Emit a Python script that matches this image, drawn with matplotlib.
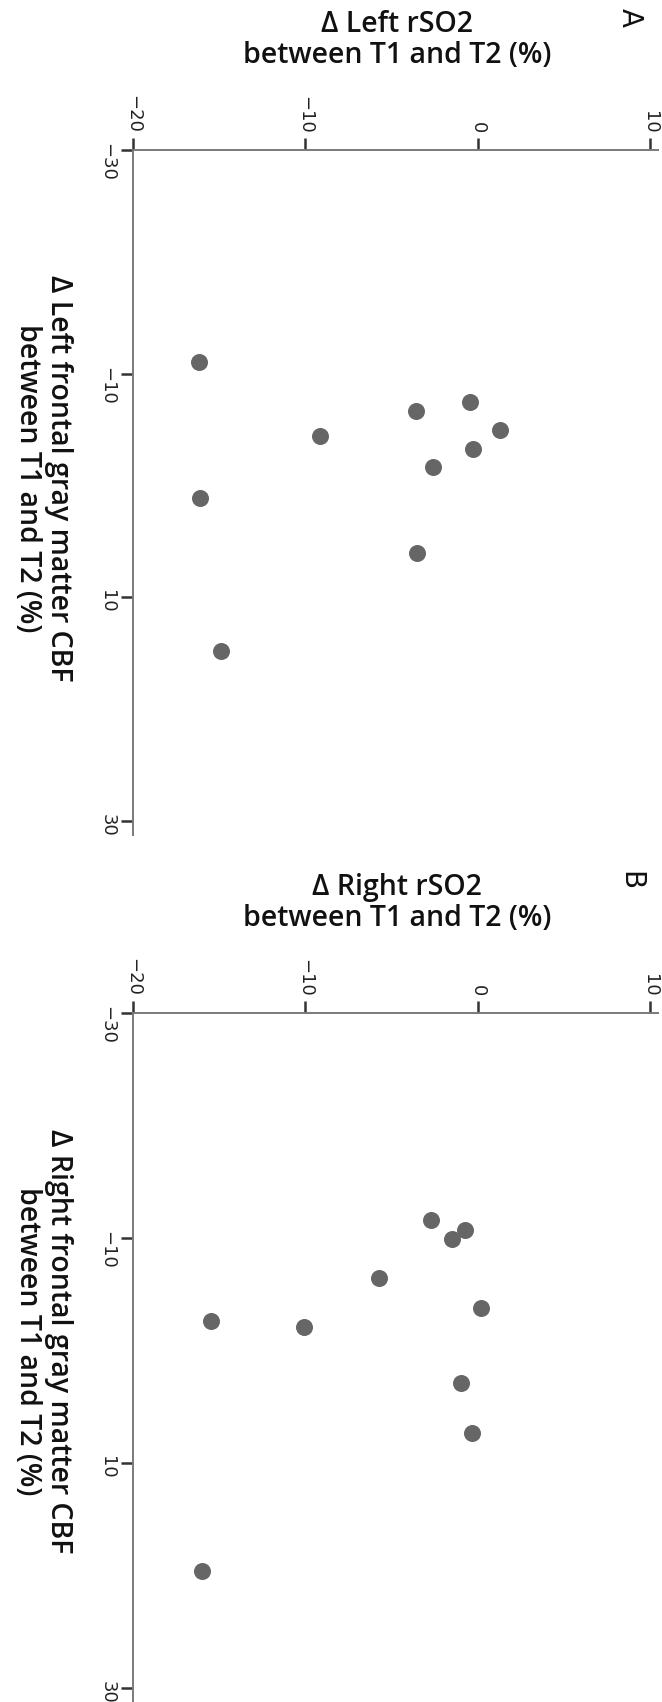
import matplotlib
matplotlib.use("Agg")
import matplotlib.pyplot as plt

# ---------------- Data ----------------
left_rso2 = [-16.15, -3.60, -0.46, 1.31, -9.15, -0.26, -2.59, -16.12, -3.50, -14.87]
left_cbf = [-11.05, -6.62, -7.46, -4.92, -4.47, -3.27, -1.63, 1.12, 6.03, 14.82]

right_rso2 = [-2.72, -0.73, -1.51, -5.71, 0.16, -15.46, -10.11, -0.97, -0.31, -16.00]
right_cbf = [-11.63, -10.71, -9.91, -6.47, -3.74, -2.65, -2.12, 2.89, 7.33, 19.57]

rso2_ticks = [-20, -10, 0, 10]
cbf_ticks = [-30, -10, 10, 30]

panels = [
    ("A", left_rso2, left_cbf,
     "\u0394 Left rSO2\nbetween T1 and T2 (%)",
     "\u0394 Left frontal gray matter CBF\nbetween T1 and T2 (%)"),
    ("B", right_rso2, right_cbf,
     "\u0394 Right rSO2\nbetween T1 and T2 (%)",
     "\u0394 Right frontal gray matter CBF\nbetween T1 and T2 (%)"),
]

# ---------------- Style ----------------
W, H = 662, 1702
plt.rcParams["axes.unicode_minus"] = True
title_font = dict(family="Open Sans", weight="semibold", size=20.5)
axis_color = "#7a7a7a"
dot_color = "#666666"

fig = plt.figure(figsize=(W / 100, H / 100), dpi=100)

# the whole figure is turned 90 deg clockwise: rSO2 runs left->right,
# CBF runs top->bottom, and all rotated text reads downward
axes_boxes = [(133, 150, 658, 835), (133, 1013, 658, 1702)]
offsets = [0, 863]

for (tag, rso2, cbf, top_label, side_label), box, dy in zip(panels, axes_boxes, offsets):
    x0, y0, x1, y1 = box
    ax = fig.add_axes([x0 / W, 1 - y1 / H, (x1 - x0) / W, (y1 - y0) / H])
    ax.scatter(rso2, cbf, s=150, color=dot_color, linewidths=0, zorder=3)

    ax.set_xlim(-20, 10.45)
    ax.set_ylim(31.25, -30)
    ax.set_xticks(rso2_ticks)
    ax.set_yticks(cbf_ticks)

    for side in ["bottom", "right"]:
        ax.spines[side].set_visible(False)
    for side in ["top", "left"]:
        ax.spines[side].set_color(axis_color)
        ax.spines[side].set_linewidth(1.4)

    ax.xaxis.tick_top()
    ax.tick_params(axis="both", direction="out", length=9, width=1.8,
                   color="#333333", pad=3, labelsize=13, labelcolor="#222222")
    for lab in ax.get_xticklabels() + ax.get_yticklabels():
        lab.set_rotation(-90)

    fig.text(397 / W, 1 - (40 + dy) / H, top_label, ha="center", va="center",
             linespacing=1.08, color="#111111", **title_font)
    fig.text(43 / W, 1 - (478 + dy) / H, side_label, ha="center", va="center",
             rotation=-90, linespacing=1.08, color="#111111", **title_font)
    fig.text(630 / W, 1 - (18 + dy) / H, tag, ha="center", va="center",
             rotation=-90, family="DejaVu Sans", size=20, color="#111111")

fig.savefig("out.png", dpi=100)
